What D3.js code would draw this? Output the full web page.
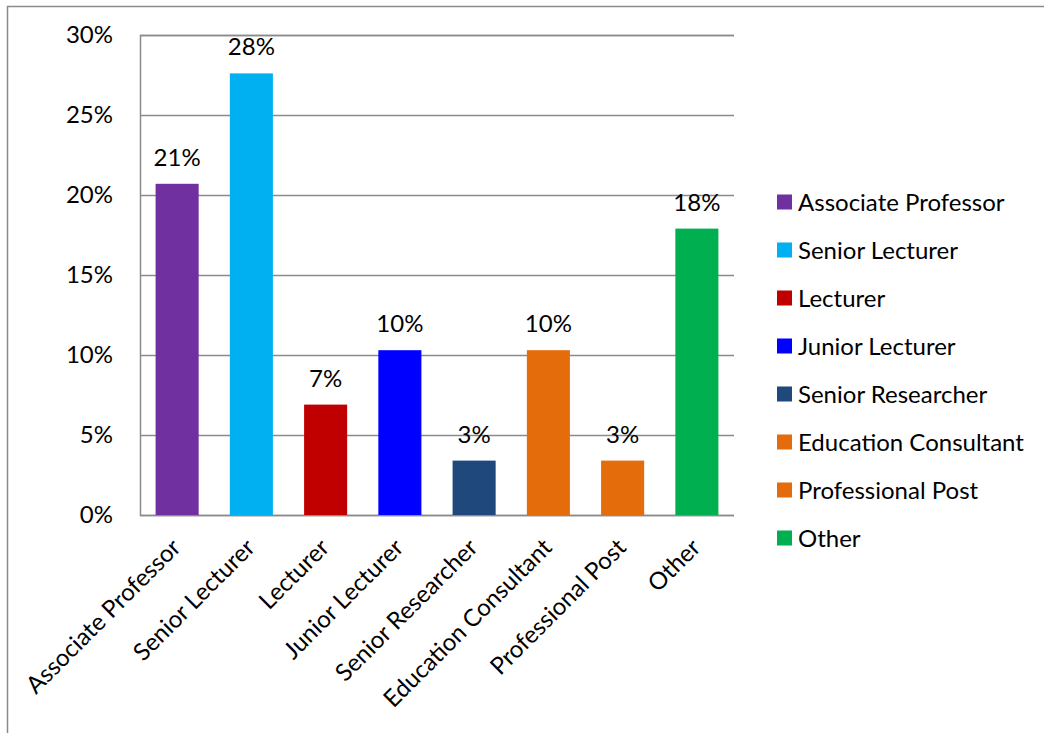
<!DOCTYPE html>
<html>
<head>
<meta charset="utf-8">
<script src="https://cdn.jsdelivr.net/npm/d3@7"></script>
<style>
  html, body { margin: 0; padding: 0; background: #fff; }
  svg { display: block; font-family: Lato, "Open Sans", sans-serif; }
</style>
</head>
<body>
<svg id="chart" width="1044" height="733"></svg>
<script>
// Share of respondents by position (percent)
const categories = [
  "Associate Professor", "Senior Lecturer", "Lecturer", "Junior Lecturer",
  "Senior Researcher", "Education Consultant", "Professional Post", "Other"
];
const values = [20.7, 27.6, 6.9, 10.3, 3.4, 10.3, 3.4, 17.9];
const colors = ["#7030A0", "#00B0F0", "#C00000", "#0000FF", "#1F497D", "#E46C0A", "#E46C0A", "#00B050"];
const yTicks = [0, 5, 10, 15, 20, 25, 30];

const FONT = "24px";
const svg = d3.select("#chart");
const plot = { left: 140, top: 35, right: 734, bottom: 515 };

// Outer frame (left and top edges visible)
svg.append("path")
  .attr("d", "M7.5,733 V6.5 H1044")
  .attr("fill", "none")
  .attr("stroke", "#8a8a8a")
  .attr("stroke-width", 1.5);

const x = d3.scaleBand()
  .domain(categories)
  .range([plot.left, plot.right])
  .paddingInner(0.42)
  .paddingOuter(0.21);

const y = d3.scaleLinear()
  .domain([0, 30])
  .range([plot.bottom, plot.top]);

// Horizontal gridlines and y labels
const yAxis = d3.axisLeft(y)
  .tickValues(yTicks)
  .tickSize(-(plot.right - plot.left))
  .tickPadding(27)
  .tickFormat(d => d + "%");

const gy = svg.append("g")
  .attr("transform", `translate(${plot.left},0)`)
  .call(yAxis);
gy.select(".domain").attr("stroke", "#8a8a8a").attr("stroke-width", 1.5);
gy.selectAll(".tick line").attr("stroke", "#8a8a8a").attr("stroke-width", 1.5);
gy.selectAll(".tick text")
  .attr("fill", "#000")
  .style("font-size", FONT)
  .style("font-family", "Lato, 'Open Sans', sans-serif");

// Bars
svg.append("g")
  .selectAll("rect")
  .data(values)
  .join("rect")
  .attr("x", (d, i) => x(categories[i]))
  .attr("y", d => y(d))
  .attr("width", x.bandwidth())
  .attr("height", d => y(0) - y(d))
  .attr("fill", (d, i) => colors[i]);

// Value labels
svg.append("g")
  .selectAll("text")
  .data(values)
  .join("text")
  .attr("x", (d, i) => x(categories[i]) + x.bandwidth() / 2)
  .attr("y", d => y(d) - 18)
  .attr("text-anchor", "middle")
  .attr("fill", "#000")
  .style("font-size", FONT)
  .text(d => Math.round(d) + "%");

// Rotated category labels
svg.append("g")
  .selectAll("text")
  .data(categories)
  .join("text")
  .attr("transform", d => {
    const cx = x(d) + x.bandwidth() / 2 + 5;
    return `translate(${cx},${plot.bottom + 34}) rotate(-45)`;
  })
  .attr("text-anchor", "end")
  .attr("fill", "#000")
  .style("font-size", FONT)
  .text(d => d);

// Legend
const legend = svg.append("g").attr("transform", "translate(777,202)");
const rows = legend.selectAll("g")
  .data(categories)
  .join("g")
  .attr("transform", (d, i) => `translate(0,${i * 48})`);
rows.append("rect")
  .attr("x", 0).attr("y", -7.5)
  .attr("width", 15).attr("height", 15)
  .attr("fill", (d, i) => colors[i]);
rows.append("text")
  .attr("x", 21)
  .attr("y", 8.5)
  .attr("fill", "#000")
  .style("font-size", FONT)
  .text(d => d);
</script>
</body>
</html>
